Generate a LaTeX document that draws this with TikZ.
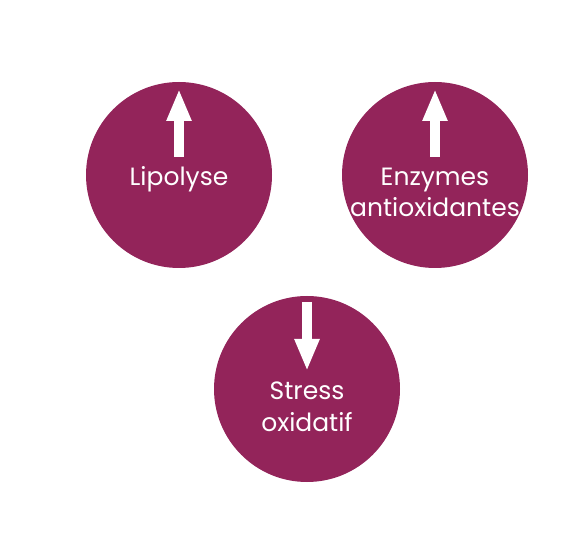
\documentclass[tikz,border=0pt]{standalone}
\usepackage{fontspec}
\newfontfamily\medfont{Poppins}
\usetikzlibrary{arrows.meta,calc}
\definecolor{plum}{HTML}{93245A}
\tikzset{
  disc/.style={circle,fill=plum,minimum size=186pt,inner sep=0pt},
  lbl/.style={text=white,font=\medfont\fontsize{25}{31}\selectfont,anchor=base,inner sep=0pt},
  bigarrow/.style={draw=white,line width=10pt,-{Triangle[width=23pt,length=32pt]}}
}
\begin{document}
\begin{tikzpicture}[x=1pt,y=1pt]
\useasboundingbox (0,0) rectangle (584,544);
\node[disc] (lip) at (179,369) {};
\node[disc] (enz) at (435,369) {};
\node[disc] (str) at (307,155) {};
\coordinate (lipa) at ($(lip)+(0,18)$);
\coordinate (lipb) at ($(lip)+(0,86)$);
\coordinate (enza) at ($(enz)+(0,18)$);
\coordinate (enzb) at ($(enz)+(0,86)$);
\coordinate (stra) at ($(str)+(0,87)$);
\coordinate (strb) at ($(str)+(0,18)$);
\draw[bigarrow] (lipa) -- (lipb);
\draw[bigarrow] (enza) -- (enzb);
\draw[bigarrow] (stra) -- (strb);
\node[lbl] (liptxt) at ($(lip)+(0,-11)$) {Lipolyse};
\node[lbl] (enztxt1) at ($(enz)+(0,-11)$) {Enzymes};
\node[lbl] (enztxt2) at ($(enz)+(0,-42)$) {antioxidantes};
\node[lbl] (strtxt1) at ($(str)+(0,-11)$) {Stress};
\node[lbl] (strtxt2) at ($(str)+(0,-43)$) {oxidatif};
\end{tikzpicture}
\end{document}
